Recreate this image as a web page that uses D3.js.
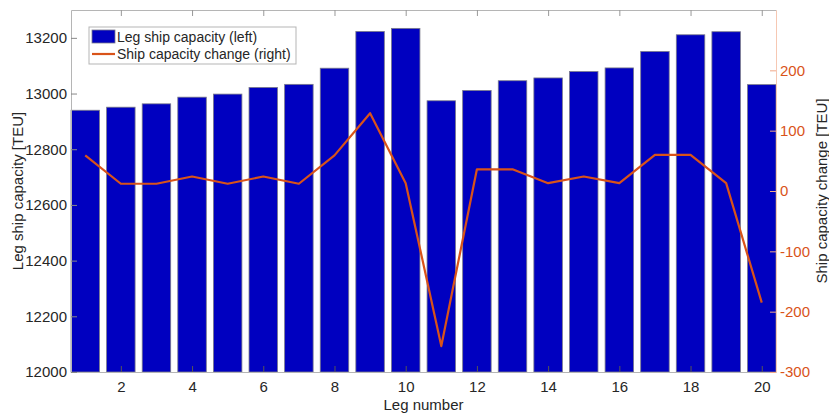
<!DOCTYPE html>
<html lang="en">
<head>
<meta charset="UTF-8"/>
<title>Leg ship capacity</title>
<script src="https://d3js.org/d3.v7.min.js"></script>
<style>
  body { margin: 0; background: #fff; }
  svg text { font-family: "Liberation Sans", Arial, sans-serif; }
</style>
</head>
<body>
<script>
    // data
    var legs = d3.range(1, 21);
    var capacity = [12940, 12951, 12963, 12987, 12998, 13022, 13033, 13091, 13223, 13234,
                    12974, 13011, 13046, 13056, 13079, 13092, 13151, 13211, 13222, 13032];
    var change = [59, 12, 12, 24, 12, 24, 12, 59, 129, 13,
                  -257, 36, 36, 13, 24, 13, 60, 60, 13, -185];
    var xTicks = [2, 4, 6, 8, 10, 12, 14, 16, 18, 20];
    var leftTicks = [12000, 12200, 12400, 12600, 12800, 13000, 13200];
    var rightTicks = [-300, -200, -100, 0, 100, 200];

    var w = 829, h = 413;
    // plot box (note: "top" is reserved on window, so use p* names)
    var pLeft = 71, pRight = 776, pTop = 10, pBottom = 372;
    var barColor = "#0000c0", lineColor = "#d95319";

    var xScale = d3.scaleLinear().domain([0.6, 20.4]).range([pLeft, pRight]);
    var yLeft = d3.scaleLinear().domain([12000, 13300]).range([pBottom, pTop]);
    var yRight = d3.scaleLinear().domain([-300, 300]).range([pBottom, pTop]);

    var svg = d3.select("body").append("svg")
        .attr("width", w)
        .attr("height", h);

    // bar width = 0.8 of a leg
    var bw = xScale(1.8) - xScale(1);

    // bars
    svg.selectAll("rect.bar")
        .data(capacity)
        .enter()
        .append("rect")
        .attr("class", "bar")
        .attr("x", function(d, i) { return xScale(legs[i]) - bw / 2; })
        .attr("y", function(d) { return yLeft(d); })
        .attr("width", bw)
        .attr("height", function(d) { return pBottom - yLeft(d); })
        .attr("fill", barColor)
        .attr("stroke", "#7a7a8a")
        .attr("stroke-width", 0.8);

    // line
    var line = d3.line()
        .x(function(d, i) { return xScale(legs[i]); })
        .y(function(d) { return yRight(d); });

    svg.append("path")
        .datum(change)
        .attr("d", line)
        .attr("fill", "none")
        .attr("stroke", lineColor)
        .attr("stroke-width", 2.2)
        .attr("stroke-linejoin", "round");

    // plain hyphen minus like the original
    var plain = function(d) { return String(d); };

    // bottom axis
    var xAxis = d3.axisBottom(xScale).tickValues(xTicks).tickSizeInner(-6).tickSizeOuter(0).tickPadding(9);
    var gx = svg.append("g")
        .attr("transform", "translate(0," + pBottom + ")")
        .call(xAxis);
    gx.select(".domain").attr("stroke", "#b5b5b5");
    gx.selectAll(".tick line").attr("stroke", "#555");
    gx.selectAll("text").attr("font-size", 15).attr("fill", "#262626");

    // top ticks
    var xTop = d3.axisTop(xScale).tickValues(xTicks).tickSizeInner(-6).tickSizeOuter(0).tickFormat("");
    var gt = svg.append("g")
        .attr("transform", "translate(0," + pTop + ")")
        .call(xTop);
    gt.select(".domain").attr("stroke", "#b5b5b5");
    gt.selectAll(".tick line").attr("stroke", "#999");

    // left axis
    var yAxisL = d3.axisLeft(yLeft).tickValues(leftTicks).tickSizeInner(-6).tickSizeOuter(0).tickPadding(4)
        .tickFormat(plain);
    var gl = svg.append("g")
        .attr("transform", "translate(" + pLeft + ",0)")
        .call(yAxisL);
    gl.select(".domain").attr("stroke", "#b5b5b5");
    gl.selectAll(".tick line").attr("stroke", "#888");
    gl.selectAll("text").attr("font-size", 15).attr("fill", "#262626");

    // right axis
    var yAxisR = d3.axisRight(yRight).tickValues(rightTicks).tickSizeInner(-6).tickSizeOuter(0).tickPadding(4)
        .tickFormat(plain);
    var gr = svg.append("g")
        .attr("transform", "translate(" + pRight + ",0)")
        .call(yAxisR);
    gr.select(".domain").attr("stroke", "#f6c8b3");
    gr.selectAll(".tick line").attr("stroke", "#f0a888");
    gr.selectAll("text").attr("font-size", 15).attr("fill", lineColor);

    // axis labels
    svg.append("text")
        .attr("text-anchor", "middle")
        .attr("transform", "translate(23," + ((pTop + pBottom) / 2) + ") rotate(-90)")
        .attr("font-size", 15)
        .attr("fill", "#262626")
        .text("Leg ship capacity [TEU]");

    svg.append("text")
        .attr("text-anchor", "middle")
        .attr("transform", "translate(827," + ((pTop + pBottom) / 2) + ") rotate(-90)")
        .attr("font-size", 15)
        .attr("fill", "#262626")
        .text("Ship capacity change [TEU]");

    svg.append("text")
        .attr("text-anchor", "middle")
        .attr("x", (pLeft + pRight) / 2)
        .attr("y", 410)
        .attr("font-size", 15)
        .attr("fill", "#262626")
        .text("Leg number");

    // legend
    var lg = svg.append("g").attr("transform", "translate(89,27)");
    lg.append("rect")
        .attr("width", 207).attr("height", 37)
        .attr("fill", "#fff").attr("stroke", "#b5b5b5");
    lg.append("rect")
        .attr("x", 3).attr("y", 3).attr("width", 23).attr("height", 13)
        .attr("fill", barColor).attr("stroke", "#7a7a8a").attr("stroke-width", 0.8);
    lg.append("line")
        .attr("x1", 3).attr("x2", 26).attr("y1", 27).attr("y2", 27)
        .attr("stroke", lineColor).attr("stroke-width", 2.2);
    lg.append("text")
        .attr("x", 28).attr("y", 15)
        .attr("font-size", 14).attr("fill", "#262626")
        .text("Leg ship capacity (left)");
    lg.append("text")
        .attr("x", 28).attr("y", 32)
        .attr("font-size", 14).attr("fill", "#262626")
        .text("Ship capacity change (right)");
</script>
</body>
</html>
